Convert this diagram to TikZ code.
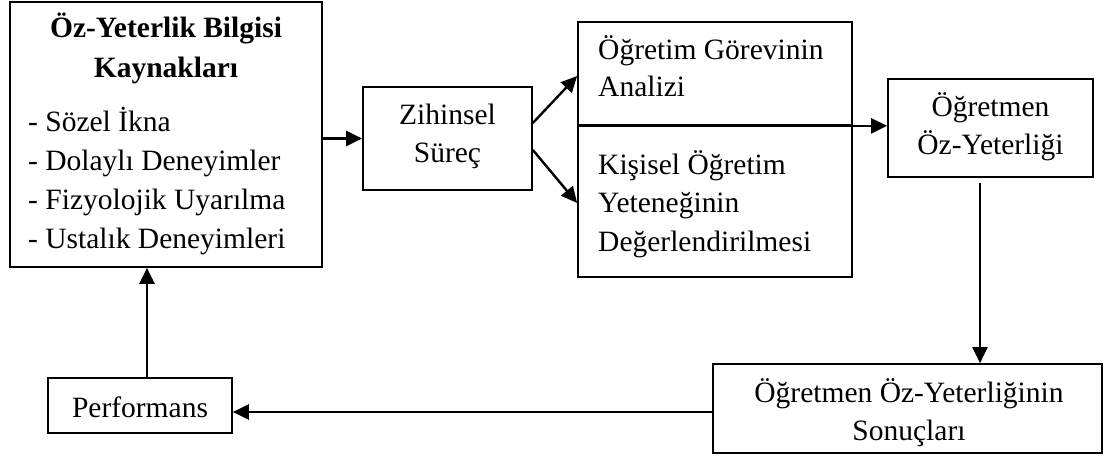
\documentclass[tikz,border=0pt]{standalone}
\usepackage{fontspec}
\setmainfont{Liberation Serif}
\usetikzlibrary{arrows.meta}
\begin{document}
\begin{tikzpicture}[x=1pt,y=-1pt,
  box/.style={draw=black, line width=1.7pt, rectangle, inner sep=0pt},
  txt/.style={inner sep=0pt, font=\fontsize{29.5}{38}\selectfont},
  btxt/.style={inner sep=0pt, font=\fontsize{29.5}{38}\selectfont\bfseries},
  arr/.style={line width=2.4pt, -{Triangle[length=16pt,width=15pt]}}]
\useasboundingbox (0,0) rectangle (1104,457);
% boxes
\node[box, minimum width=312pt, minimum height=265pt] (src) at (166,134.5) {};
\node[box, minimum width=169pt, minimum height=103pt] (zih) at (447.5,138.5) {};
\node[box, minimum width=274pt, minimum height=103pt] (top) at (715,73.5) {};
\node[box, minimum width=274pt, minimum height=152pt] (bot) at (715,201) {};
\node[box, minimum width=205pt, minimum height=98pt] (ogr) at (990.5,128) {};
\node[box, minimum width=389pt, minimum height=89pt] (son) at (907.5,408.5) {};
\node[box, minimum width=184pt, minimum height=55pt] (perf) at (140,405.5) {};
% texts
\node[btxt, anchor=base] (t1) at (166,38) {Öz-Yeterlik Bilgisi};
\node[btxt, anchor=base] (t2) at (166,78) {Kaynakları};
\node[txt, anchor=base west] (l1) at (28,132) {- Sözel İkna};
\node[txt, anchor=base west] (l2) at (28,171) {- Dolaylı Deneyimler};
\node[txt, anchor=base west] (l3) at (28,210) {- Fizyolojik Uyarılma};
\node[txt, anchor=base west] (l4) at (28,249) {- Ustalık Deneyimleri};
\node[txt, anchor=base] (z1) at (447.5,125) {Zihinsel};
\node[txt, anchor=base] (z2) at (447.5,163) {Süreç};
\node[txt, anchor=base west] (a1) at (598,60) {Öğretim Görevinin};
\node[txt, anchor=base west] (a2) at (598,97) {Analizi};
\node[txt, anchor=base west] (k1) at (598,175) {Kişisel Öğretim};
\node[txt, anchor=base west] (k2) at (598,213) {Yeteneğinin};
\node[txt, anchor=base west] (k3) at (598,252) {Değerlendirilmesi};
\node[txt, anchor=base] (o1) at (990.5,117) {Öğretmen};
\node[txt, anchor=base] (o2) at (990.5,155) {Öz-Yeterliği};
\node[txt, anchor=base] (s1) at (909,402) {Öğretmen Öz-Yeterliğinin};
\node[txt, anchor=base] (s2) at (909,440) {Sonuçları};
\node[txt, anchor=base] (p1) at (140,417) {Performans};
% connectors
\draw[arr] (zih.west -| src.east) -- (zih.west);
\draw[arr] ([yshift=15.5pt]zih.east) -- ([yshift=-2.5pt]top.west);
\draw[arr] ([yshift=-11.5pt]zih.east) -- ([yshift=-2pt]bot.west);
\draw[arr] (top.south west) -- (top.south west -| ogr.west);
\coordinate (c1) at ([xshift=-10.5pt,yshift=-5pt]ogr.south);
\draw[arr] (c1) -- (c1 |- son.north);
\draw[arr] ([yshift=-3.5pt]son.west) -- ([yshift=-3.5pt]son.west -| perf.east);
\draw[arr] ([xshift=7pt]perf.north) -- ([xshift=7pt]perf.north |- src.south);
\end{tikzpicture}
\end{document}
